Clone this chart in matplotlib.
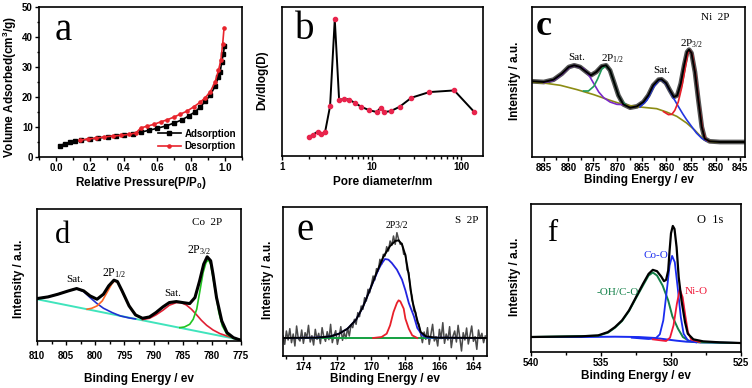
import numpy as np
import matplotlib
matplotlib.use("Agg")
import matplotlib.pyplot as plt
from matplotlib import font_manager
from matplotlib.ticker import MultipleLocator, LogLocator, NullFormatter, FixedLocator, FixedFormatter

SANS = 'Liberation Sans'
SERIF = 'Liberation Serif'
plt.rcParams['font.family'] = [SANS, 'DejaVu Sans']
plt.rcParams['font.weight'] = 'bold'
plt.rcParams['axes.labelweight'] = 'bold'

# (a) N2 isotherm
ads_p = [0.023, 0.053, 0.082, 0.111, 0.15, 0.2, 0.248, 0.307, 0.355, 0.404, 0.453, 0.502,
         0.551, 0.6, 0.648, 0.697, 0.746, 0.785, 0.824, 0.854, 0.883, 0.912, 0.941, 0.961,
         0.971, 0.98, 0.99, 0.996]
ads_v = [3.8, 4.4, 4.9, 5.2, 5.6, 6.0, 6.3, 6.7, 7.1, 7.4, 7.8, 8.3,
         8.9, 9.6, 10.3, 11.3, 12.4, 13.7, 15.1, 16.7, 18.6, 20.6, 23.6, 26.7,
         28.3, 31.7, 34.4, 36.9]
des_p = [0.14, 0.19, 0.238, 0.287, 0.336, 0.385, 0.434, 0.473, 0.502, 0.541, 0.58, 0.619,
         0.658, 0.697, 0.736, 0.775, 0.814, 0.854, 0.883, 0.912, 0.941, 0.961, 0.975, 0.986, 0.994]
des_v = [5.6, 6.0, 6.3, 6.7, 7.0, 7.2, 7.6, 8.0, 9.7, 10.3, 10.9, 11.7,
         12.4, 13.3, 14.3, 15.3, 16.7, 18.3, 19.8, 21.7, 25.0, 28.9, 32.2, 37.8, 43.1]

# (b) pore size distribution
pore_d = [1.98, 2.19, 2.49, 2.71, 3.03, 3.44, 3.88, 4.34, 4.93, 5.6, 6.47, 7.68, 9.34,
          11.4, 12.6, 13.7, 16.3, 20.5, 27.8, 44, 83.6, 139]
pore_dv = [12.9, 14.1, 16.3, 14.5, 16.3, 33.5, 91.7, 37.5, 38.4, 37.9, 35.7, 33.0, 30.8,
           29.5, 32.4, 29.5, 30.1, 33.0, 39.1, 42.9, 44.0, 29.7]

# (c) Ni 2p
c_env_ev = [887.4, 885.0, 883.0, 881.3, 879.9, 878.8, 877.6, 876.3, 875.4, 874.3, 873.2, 872.3,
            871.5, 870.7, 869.8, 868.8, 867.4, 866.0, 864.7, 863.7, 862.7, 861.6, 861.0, 860.1,
            859.3, 858.5, 857.8, 857.1, 856.4, 855.8, 855.4, 854.9, 854.2, 853.5, 852.8, 852.2,
            851.2, 849.1, 846.4, 844.0]
c_env = [227, 225, 232, 250, 270, 275, 270, 255, 245, 255, 272, 275,
         260, 225, 185, 158, 148, 152, 165, 185, 215, 232, 233, 222,
         200, 180, 185, 220, 275, 315, 322, 312, 255, 170, 90, 55,
         47, 45, 45, 45]
c_bg_ev = [887.4, 885.0, 881.6, 878.2, 874.8, 871.5, 868.8, 865.4, 862.0, 860.0, 857.9, 855.9,
           854.2, 852.8, 851.8, 849.8, 844.0]
c_bg = [225, 222, 215, 202, 187, 170, 157, 150, 145, 135, 122, 102, 80, 58, 48, 45, 45]
c_sat1_ev = [885.0, 883.0, 881.3, 879.9, 878.8, 876.9, 875.9, 874.8, 873.8, 872.8, 871.5, 870.1, 868.8]
c_sat1 = [223, 230, 248, 268, 275, 265, 248, 220, 195, 178, 165, 158, 157]
c_p12_ev = [876.9, 875.9, 874.8, 874.0, 873.2, 872.3, 871.5, 870.7, 869.8, 869.1, 868.4]
c_p12 = [198, 198, 212, 235, 263, 275, 260, 225, 185, 167, 158]
c_sat2_ev = [865.4, 864.0, 862.7, 861.6, 861.0, 860.1, 859.3, 858.5, 857.6, 856.7, 855.9, 854.9,
             853.9, 852.8, 851.8]
c_sat2 = [150, 170, 208, 230, 232, 220, 198, 175, 152, 130, 112, 92, 72, 56, 48]
c_p32_ev = [860.6, 859.6, 858.9, 858.3, 857.6, 856.9, 856.2, 855.6, 855.2, 854.7, 854.0, 853.3,
            852.6, 852.0, 851.2]
c_p32 = [136, 127, 128, 140, 165, 208, 265, 315, 320, 305, 240, 150, 80, 52, 47]

# (d) Co 2p
d_env_ev = [810.0, 808.1, 806.4, 804.6, 803.2, 802.0, 800.9, 799.7, 798.6, 797.7, 796.8, 796.2,
            795.4, 794.2, 793.1, 791.9, 790.7, 789.6, 788.4, 787.3, 786.1, 785.0, 783.8, 782.9,
            782.1, 781.4, 780.8, 780.2, 779.8, 779.2, 778.3, 777.4, 776.3, 775.0]
d_env = [127, 132, 140, 150, 157, 150, 135, 125, 140, 165, 182, 178,
         150, 105, 78, 68, 72, 85, 102, 115, 118, 115, 112, 130,
         180, 230, 252, 240, 200, 130, 60, 25, 10, 2]
d_bg_ev = [810.0, 775.0]
d_bg = [125, 3]
d_sat1_ev = [810.0, 808.1, 806.4, 804.6, 803.2, 802.0, 800.9, 799.7, 798.6, 797.1, 795.7, 794.2, 793.1]
d_sat1 = [127, 132, 140, 150, 157, 148, 130, 112, 98, 85, 75, 69, 66]
d_p12_ev = [801.4, 800.6, 799.7, 798.8, 798.0, 797.2, 796.7, 796.1, 795.4, 794.5, 793.6, 792.8, 791.9]
d_p12 = [95, 98, 105, 120, 145, 170, 180, 175, 148, 115, 90, 75, 68]
d_sat2_ev = [791.9, 790.7, 789.6, 788.4, 787.3, 786.1, 785.3, 784.4, 783.5, 782.6, 781.8, 780.9,
             779.8, 778.6, 776.9, 775.0]
d_sat2 = [64, 68, 78, 92, 107, 115, 115, 108, 95, 78, 62, 47, 33, 22, 12, 3]
d_p32_ev = [785.5, 784.7, 783.8, 783.2, 782.6, 782.1, 781.5, 781.0, 780.6, 780.2, 779.8, 779.3,
            778.8, 778.2, 777.4, 776.3, 775.0]
d_p32 = [40, 42, 50, 65, 95, 145, 205, 235, 243, 230, 190, 140, 85, 45, 20, 8, 3]

# (e) S 2p
e_raw = [60, 35, 75, 48, 82, 40, 66, 30, 90, 52, 45, 78, 38, 70, 55, 92, 42, 61, 33, 80,
         50, 68, 37, 85, 58, 44, 73, 49, 95, 40, 62, 76, 35, 58, 88, 47, 70, 52, 84, 60, 93,
         85, 110, 95, 130, 118, 150, 140, 175, 165, 200, 190,
         215, 240, 228, 262, 255, 290, 275, 305, 300, 328, 315, 345, 332, 360, 335, 370,
         350, 335, 338, 305, 306, 258, 250, 195, 178, 135, 132, 98, 96, 66,
         40, 72, 50, 85, 35, 65, 95, 45, 58, 30, 80, 52, 100, 38, 66, 48, 88, 25, 60, 75,
         42, 92, 55, 15, 70, 48, 84, 36, 62, 90, 44, 58, 20, 78, 52, 68, 40, 60]
e_raw_start, e_raw_step = 175.2, 0.1
e_fit_ev = [175.2, 173.2, 172.4, 171.9, 171.4, 170.9, 170.5, 170.1, 169.7, 169.3, 168.9, 168.6,
            168.4, 168.2, 168.0, 167.8, 167.6, 167.3, 167.1, 166.8, 166.2, 163.2]
e_fit = [54, 55, 59, 67, 82, 109, 147, 197, 249, 297, 330, 345,
         347, 335, 302, 242, 167, 107, 72, 59, 55, 54]
e_blue_ev = [175.2, 173.2, 172.4, 171.9, 171.4, 170.9, 170.5, 170.1, 169.6, 169.4, 169.2, 169.0,
             168.8, 168.5, 168.2, 168.0, 167.8, 167.5, 167.3, 167.0, 166.7, 163.2]
e_blue = [54, 55, 59, 67, 82, 109, 147, 197, 258, 277, 291, 289,
          279, 259, 229, 197, 159, 119, 84, 62, 55, 54]
e_red_ev = [169.9, 169.4, 169.1, 168.9, 168.7, 168.5, 168.4, 168.3, 168.1, 168.0, 167.8, 167.6, 167.3]
e_red = [54, 57, 67, 92, 132, 159, 167, 164, 142, 112, 82, 62, 54]
e_bg_ev = [175.2, 163.2]
e_bg = [54, 54]

# (f) O 1s
f_env_ev = [540.2, 536.4, 535.2, 534.5, 534.0, 533.5, 533.0, 532.5, 532.0, 531.6, 531.3, 531.0,
            530.7, 530.5, 530.35, 530.2, 530.1, 530.0, 529.87, 529.75, 529.6, 529.45, 529.25,
            529.0, 528.8, 528.4, 527.7, 526.5, 525.0]
f_env = [45, 47, 50, 60, 75, 95, 125, 165, 205, 235, 247, 243,
         227, 213, 217, 245, 305, 357, 379, 370, 315, 225, 155,
         90, 55, 38, 32, 29, 27]
f_oh_ev = [540.2, 535.2, 534.5, 534.0, 533.5, 533.0, 532.5, 532.0, 531.6, 531.3, 531.0, 530.6,
           530.2, 529.9, 529.5, 529.15, 528.7, 527.9, 525.0]
f_oh = [45, 49, 58, 73, 93, 123, 162, 200, 230, 239, 230, 200, 155, 107, 70, 45, 33, 29, 27]
f_base_ev = [540.2, 536.4, 534.0, 532.3, 531.1, 530.35, 529.6, 528.9, 527.9, 526.7, 525.0]
f_base = [45, 45, 46, 45, 42, 38, 34, 31, 29, 28, 27]
f_coo_ev = [532.8, 531.6, 531.1, 530.8, 530.55, 530.3, 530.1, 529.92, 529.73, 529.5, 529.3,
            529.1, 528.8, 528.2]
f_coo = [43, 39, 41, 53, 95, 185, 260, 289, 270, 185, 105, 55, 35, 29]
f_nio_ev = [531.3, 530.35, 530.07, 529.82, 529.58, 529.37, 529.17, 528.98, 528.79, 528.55, 527.94]
f_nio = [38, 33, 43, 80, 145, 188, 165, 110, 60, 37, 30]


fig = plt.figure(figsize=(7.52, 3.88), dpi=100)
W, H = 752.0, 388.0
BOLD = font_manager.FontProperties(family=SANS, weight='bold', size=7)
axes_list = []


def make_ax(l, t, r, b):
    a = fig.add_axes([l / W, 1 - b / H, (r - l) / W, (b - t) / H])
    axes_list.append(a)
    return a


def style(ax, xlab, ylab, xl_off, yl_x, yl_y, pad=1.5):
    for s in ax.spines.values():
        s.set_linewidth(1.2)
    ax.tick_params(which='both', direction='out', width=1, labelsize=7, pad=pad)
    ax.tick_params(which='major', length=3)
    ax.tick_params(which='minor', length=1.8)
    ax.set_xlabel(xlab, fontsize=8.5, fontweight='bold', family=SANS)
    ax.xaxis.label.set_va('center')
    ax.xaxis.set_label_coords(0.5, xl_off)
    ax.set_ylabel(ylab, fontsize=8.5, fontweight='bold', family=SANS)
    ax.yaxis.label.set_va('center')
    ax.yaxis.set_label_coords(yl_x, yl_y)


def letter(ax, s, x, y, size=28, weight='normal'):
    ax.text(x, y, s, transform=ax.transAxes, family=SERIF, fontsize=size,
            weight=weight, ha='center', va='center')


def note(ax, x, y, s, color='black', size=8, coords='data'):
    kw = {'transform': ax.transAxes} if coords == 'axes' else {}
    ax.text(x, y, s, color=color, family=SERIF, fontsize=size, weight='normal',
            ha='center', va='center', **kw)


# ---- a
ax = make_ax(39, 7, 242, 157)
ax.plot(ads_p, ads_v, '-s', color='black', ms=2.3, lw=1.2, label='Adsorption')
ax.plot(des_p, des_v, '-o', color='#e8242c', ms=2.3, lw=1.2, label='Desorption')
ax.set_xlim(-0.1, 1.1)
ax.set_ylim(0, 50)
ax.set_xticks([0, 0.2, 0.4, 0.6, 0.8, 1.0], ['0.0', '0.2', '0.4', '0.6', '0.8', '1.0'])
ax.xaxis.set_minor_locator(MultipleLocator(0.1))
ax.yaxis.set_major_locator(MultipleLocator(10))
ax.yaxis.set_minor_locator(MultipleLocator(5))
style(ax, 'Relative Pressure(P/P$\\mathregular{_0}$)', 'Volume Adsorbed(cm$\\mathregular{^3}$/g)',
      -0.175, -0.145, 0.467)
ax.legend(loc='lower right', frameon=False, handlelength=2.3,
          prop=font_manager.FontProperties(family=SANS, weight='bold', size=7),
          borderaxespad=0.2, labelspacing=0.25, handletextpad=0.4)
letter(ax, 'a', 0.12, 0.84)

# ---- b
ax = make_ax(282, 7, 483, 156)
ax.plot(pore_d, pore_dv, '-', color='black', lw=1.4)
ax.plot(pore_d, pore_dv, 'o', color='#e8244c', ms=3)
ax.set_xscale('log')
ax.set_xlim(1, 175)
ax.set_ylim(0, 100)
ax.xaxis.set_major_locator(FixedLocator([1, 10, 100]))
ax.xaxis.set_major_formatter(FixedFormatter(['1', '10', '100']))
ax.xaxis.set_minor_locator(LogLocator(base=10, subs=np.arange(2, 10)))
ax.xaxis.set_minor_formatter(NullFormatter())
style(ax, 'Pore diameter/nm', 'Dv/dlog(D)', -0.175, -0.1, 0.51)
ax.tick_params(axis='y', left=False, labelleft=False)
letter(ax, 'b', 0.115, 0.85)

# ---- c
ax = make_ax(532, 7, 745, 157)
ax.plot(c_env_ev, c_env, color='#555555', lw=3.4)
ax.plot(c_bg_ev, c_bg, color='#8c8c14', lw=1.2)
ax.plot(c_sat1_ev, c_sat1, color='#7a28c8', lw=1.2)
ax.plot(c_p12_ev, c_p12, color='#1f9a5a', lw=1.2)
ax.plot(c_sat2_ev, c_sat2, color='#2236e0', lw=1.2)
ax.plot(c_p32_ev, c_p32, color='#e8202a', lw=1.2)
ax.plot(c_env_ev, c_env, color='black', lw=1.4)
ax.set_xlim(887.4, 844)
ax.set_ylim(0, 450)
ax.xaxis.set_major_locator(MultipleLocator(5))
ax.xaxis.set_minor_locator(MultipleLocator(2.5))
style(ax, 'Binding Energy / ev', 'Intensity / a.u.', -0.155, -0.08, 0.507)
ax.tick_params(axis='y', left=False, labelleft=False)
letter(ax, 'c', 0.055, 0.87, size=26, weight='bold')
note(ax, 0.86, 0.933, 'Ni  2P', coords='axes')
note(ax, 878.2, 300, 'Sat.')
note(ax, 871.0, 295, '2P$\\mathregular{_{1/2}}$')
note(ax, 861.0, 260, 'Sat.')
note(ax, 854.9, 340, '2P$\\mathregular{_{3/2}}$')

# ---- d
ax = make_ax(37, 209, 241, 341)
ax.plot(d_bg_ev, d_bg, color='#40e4bc', lw=1.4)
ax.plot(d_sat1_ev, d_sat1, color='#2030d0', lw=1.2)
ax.plot(d_p12_ev, d_p12, color='#ff6424', lw=1.2)
ax.plot(d_sat2_ev, d_sat2, color='#e02034', lw=1.2)
ax.plot(d_p32_ev, d_p32, color='#22c422', lw=1.2)
ax.plot(d_env_ev, d_env, color='black', lw=2.2)
ax.set_xlim(810, 775)
ax.set_ylim(0, 395)
ax.xaxis.set_major_locator(MultipleLocator(5))
ax.xaxis.set_minor_locator(MultipleLocator(2.5))
style(ax, 'Binding Energy / ev', 'Intensity / a.u.', -0.29, -0.088, 0.47, pad=4)
ax.tick_params(axis='y', left=False, labelleft=False)
letter(ax, 'd', 0.127, 0.80, size=22)
note(ax, 0.835, 0.90, 'Co  2P', coords='axes')
note(ax, 803.5, 185, 'Sat.')
note(ax, 796.7, 203, '2P$\\mathregular{_{1/2}}$', size=8.5)
note(ax, 786.7, 142, 'Sat.')
note(ax, 782.2, 273, '2P$\\mathregular{_{3/2}}$', size=8.5)

# ---- e
ax = make_ax(283, 207, 487, 356)
e_raw_ev = e_raw_start - e_raw_step * np.arange(len(e_raw))
ax.plot(e_raw_ev, e_raw, color='#4a4a4a', lw=1.1)
ax.plot(e_bg_ev, e_bg, color='#14a040', lw=1.4)
ax.plot(e_red_ev, e_red, color='#e8202a', lw=1.3)
ax.plot(e_blue_ev, e_blue, color='#2224e0', lw=1.3)
ax.plot(e_fit_ev, e_fit, color='black', lw=1.4)
ax.set_xlim(175.2, 163.2)
ax.set_ylim(0, 447)
ax.xaxis.set_major_locator(MultipleLocator(2))
ax.xaxis.set_minor_locator(MultipleLocator(1))
style(ax, 'Binding Energy / ev', 'Intensity / a.u.', -0.155, -0.074, 0.51)
ax.tick_params(axis='y', left=False, labelleft=False)
letter(ax, 'e', 0.108, 0.84)
note(ax, 0.90, 0.91, 'S  2P', coords='axes')
note(ax, 168.5, 392, '2P3/2', size=7)

# ---- f
ax = make_ax(531, 204, 741, 352)
ax.plot(f_base_ev, f_base, color='#1a2cf0', lw=1.4)
ax.plot(f_oh_ev, f_oh, color='#128048', lw=1.4)
ax.plot(f_coo_ev, f_coo, color='#1a2cf0', lw=1.3)
ax.plot(f_nio_ev, f_nio, color='#f01838', lw=1.3)
ax.plot(f_env_ev, f_env, color='black', lw=1.6)
ax.set_xlim(540, 525)
ax.set_ylim(0, 445)
ax.xaxis.set_major_locator(MultipleLocator(5))
ax.xaxis.set_minor_locator(MultipleLocator(2.5))
style(ax, 'Binding Energy / ev', 'Intensity / a.u.', -0.165, -0.076, 0.507)
ax.tick_params(axis='y', left=False, labelleft=False)
letter(ax, 'f', 0.10, 0.80, size=22)
note(ax, 0.852, 0.89, 'O  1s', coords='axes', size=9)
note(ax, 531.1, 290, 'Co-O', color='#1a2cf0')
note(ax, 528.2, 183, 'Ni-O', color='#f01838')
note(ax, 533.8, 178, '-OH/C-O', color='#128048')

# bold tick labels, applied once all ticks exist
fig.canvas.draw()
for a in axes_list:
    for lab in a.get_xticklabels() + a.get_yticklabels():
        lab.set_fontproperties(BOLD)

fig.savefig('out.png', dpi=100)
